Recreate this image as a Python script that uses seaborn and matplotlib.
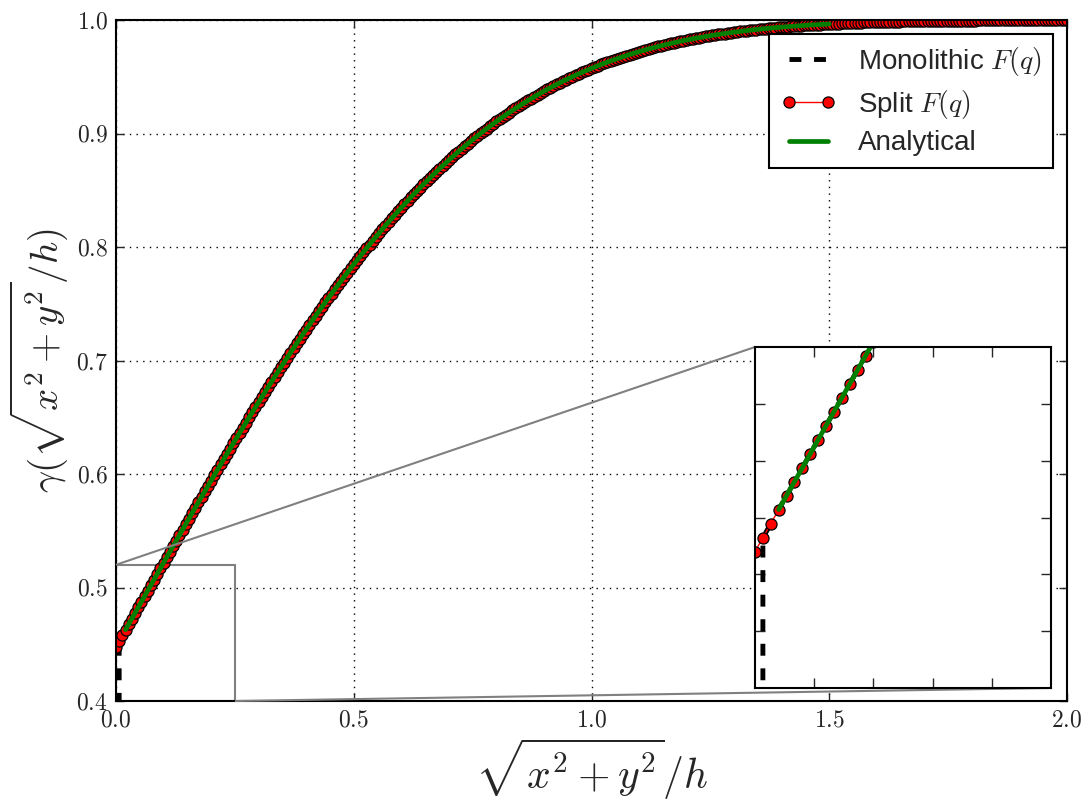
import numpy as np
import pandas as pd
import matplotlib
matplotlib.use("Agg")
import matplotlib.pyplot as plt
import seaborn as sns
from matplotlib.ticker import FuncFormatter
from mpl_toolkits.axes_grid1.inset_locator import mark_inset

# Sample radii r = sqrt(x^2 + y^2) / h for the split evaluation
split_r = np.linspace(0.0, 2.0, 301)

# gamma(r) from the split F(q) evaluation
split_gamma = [
    0.4480, 0.4529, 0.4578, 0.4628, 0.4677, 0.4726, 0.4775, 0.4824, 0.4874, 0.4923,
    0.4972, 0.5021, 0.5070, 0.5120, 0.5169, 0.5218, 0.5267, 0.5315, 0.5364, 0.5413,
    0.5462, 0.5510, 0.5559, 0.5607, 0.5655, 0.5703, 0.5751, 0.5799, 0.5847, 0.5895,
    0.5942, 0.5989, 0.6037, 0.6084, 0.6131, 0.6177, 0.6224, 0.6270, 0.6316, 0.6362,
    0.6408, 0.6453, 0.6499, 0.6544, 0.6589, 0.6633, 0.6678, 0.6722, 0.6766, 0.6810,
    0.6853, 0.6896, 0.6939, 0.6982, 0.7025, 0.7067, 0.7109, 0.7150, 0.7192, 0.7233,
    0.7273, 0.7314, 0.7354, 0.7394, 0.7433, 0.7473, 0.7512, 0.7550, 0.7588, 0.7626,
    0.7664, 0.7701, 0.7738, 0.7775, 0.7811, 0.7847, 0.7883, 0.7918, 0.7953, 0.7988,
    0.8022, 0.8056, 0.8090, 0.8123, 0.8156, 0.8189, 0.8221, 0.8253, 0.8284, 0.8315,
    0.8346, 0.8377, 0.8407, 0.8437, 0.8466, 0.8495, 0.8524, 0.8552, 0.8580, 0.8607,
    0.8635, 0.8662, 0.8688, 0.8714, 0.8740, 0.8765, 0.8791, 0.8815, 0.8840, 0.8864,
    0.8888, 0.8911, 0.8934, 0.8957, 0.8979, 0.9001, 0.9023, 0.9044, 0.9065, 0.9086,
    0.9106, 0.9126, 0.9146, 0.9165, 0.9184, 0.9203, 0.9221, 0.9239, 0.9257, 0.9274,
    0.9292, 0.9308, 0.9325, 0.9341, 0.9357, 0.9373, 0.9388, 0.9403, 0.9418, 0.9433,
    0.9447, 0.9461, 0.9474, 0.9488, 0.9501, 0.9514, 0.9526, 0.9539, 0.9551, 0.9563,
    0.9574, 0.9586, 0.9597, 0.9608, 0.9618, 0.9629, 0.9639, 0.9649, 0.9659, 0.9668,
    0.9678, 0.9687, 0.9696, 0.9704, 0.9713, 0.9721, 0.9729, 0.9737, 0.9745, 0.9752,
    0.9760, 0.9767, 0.9774, 0.9781, 0.9787, 0.9794, 0.9800, 0.9806, 0.9812, 0.9818,
    0.9824, 0.9829, 0.9835, 0.9840, 0.9845, 0.9850, 0.9855, 0.9860, 0.9864, 0.9869,
    0.9873, 0.9877, 0.9881, 0.9885, 0.9889, 0.9893, 0.9896, 0.9900, 0.9903, 0.9907,
    0.9910, 0.9913, 0.9916, 0.9919, 0.9922, 0.9925, 0.9927, 0.9930, 0.9933, 0.9935,
    0.9937, 0.9940, 0.9942, 0.9944, 0.9946, 0.9948, 0.9950, 0.9952, 0.9954, 0.9956,
    0.9957, 0.9959, 0.9960, 0.9962, 0.9963, 0.9965, 0.9966, 0.9968, 0.9969, 0.9970,
    0.9971, 0.9972, 0.9974, 0.9975, 0.9976, 0.9977, 0.9978, 0.9979, 0.9979, 0.9980,
    0.9981, 0.9982, 0.9983, 0.9983, 0.9984, 0.9985, 0.9985, 0.9986, 0.9987, 0.9987,
    0.9988, 0.9988, 0.9989, 0.9989, 0.9990, 0.9990, 0.9991, 0.9991, 0.9992, 0.9992,
    0.9992, 0.9993, 0.9993, 0.9993, 0.9994, 0.9994, 0.9994, 0.9994, 0.9995, 0.9995,
    0.9995, 0.9995, 0.9996, 0.9996, 0.9996, 0.9996, 0.9996, 0.9997, 0.9997, 0.9997,
    0.9997, 0.9997, 0.9997, 0.9998, 0.9998, 0.9998, 0.9998, 0.9998, 0.9998, 0.9998,
    0.9998, 0.9998, 0.9998, 0.9999, 0.9999, 0.9999, 0.9999, 0.9999, 0.9999, 0.9999,
    0.9999,
]

# Analytical curve: every third sample from r = 0.02 up to r = 1.5
analytic_r = list(split_r[3:226:3])
analytic_gamma = split_gamma[3:226:3]

# Monolithic F(q): starts at zero at the first off-axis sample, then follows
mono_r = [split_r[1]] + list(split_r[1:])
mono_gamma = [0.0] + split_gamma[1:]

sns.set_style("ticks")
plt.rcParams["font.family"] = ["Liberation Sans", "DejaVu Sans"]
plt.rcParams["mathtext.fontset"] = "cm"

fig = plt.figure(figsize=(10.88, 8.02), dpi=100)
ax = fig.add_axes([116 / 1088, 1 - 701 / 802, 951 / 1088, 681 / 802])
axins = fig.add_axes([755 / 1088, 1 - 688 / 802, 296 / 1088, 341 / 802])

df_mono = pd.DataFrame({"r": mono_r, "g": mono_gamma})
df_split = pd.DataFrame({"r": split_r, "g": split_gamma})
df_an = pd.DataFrame({"r": analytic_r, "g": analytic_gamma})


def draw(a, legend):
    sns.lineplot(data=df_mono, x="r", y="g", ax=a, estimator=None, sort=False,
                 color="k", lw=3.5, linestyle=(0, (2.45, 2.6)),
                 label="Monolithic $F(q)$" if legend else None)
    sns.lineplot(data=df_split, x="r", y="g", ax=a, estimator=None, sort=False,
                 color="r", lw=1.0, marker="o", markersize=8.0,
                 markeredgecolor="k", markeredgewidth=0.9,
                 markerfacecolor="r", label="Split $F(q)$" if legend else None)
    sns.lineplot(data=df_an, x="r", y="g", ax=a, estimator=None, sort=False,
                 color=(0, 0.5, 0), lw=3.4,
                 label="Analytical" if legend else None)


draw(ax, True)
draw(axins, False)

ax.set_xlim(0, 2.0)
ax.set_ylim(0.4, 1.0)
ax.set_xticks([0.0, 0.5, 1.0, 1.5, 2.0])
ax.set_yticks([0.4, 0.5, 0.6, 0.7, 0.8, 0.9, 1.0])
fmt = FuncFormatter(lambda v, p: f"${v:.1f}$")
ax.xaxis.set_major_formatter(fmt)
ax.yaxis.set_major_formatter(fmt)
ax.tick_params(direction="in", length=6, width=1, labelsize=17, pad=6,
               top=True, right=True)
ax.grid(True, color="k", lw=1.0, linestyle=(0, (1, 3.8)))
ax.set_xlabel(r"$\sqrt{x^2+y^2}/h$", fontsize=30)
ax.set_ylabel(r"$\gamma(\sqrt{x^2+y^2}/h)$", fontsize=28)
for s in ax.spines.values():
    s.set_linewidth(1.5)
    s.set_color("k")

axins.set_xlim(0, 0.25)
axins.set_ylim(0.4, 0.52)
axins.set_xticks([0.05, 0.10, 0.15, 0.20])
axins.set_yticks([0.42, 0.44, 0.46, 0.48, 0.50])
axins.tick_params(direction="in", length=7, width=1, labelbottom=False,
                  labelleft=False, top=True, right=True)
axins.set_xlabel("")
axins.set_ylabel("")
for s in axins.spines.values():
    s.set_linewidth(1.5)
    s.set_color("k")

mark_inset(ax, axins, loc1=2, loc2=4, fc="none", ec="0.5", lw=1.5)

leg = ax.legend(loc="upper right", fontsize=20, handlelength=2.0,
                handletextpad=0.8, borderpad=0.4, labelspacing=0.35,
                numpoints=2, fancybox=False, framealpha=1.0,
                borderaxespad=0.5)
leg.get_frame().set_edgecolor("k")
leg.get_frame().set_linewidth(1.5)

fig.savefig("out.png", dpi=100)
